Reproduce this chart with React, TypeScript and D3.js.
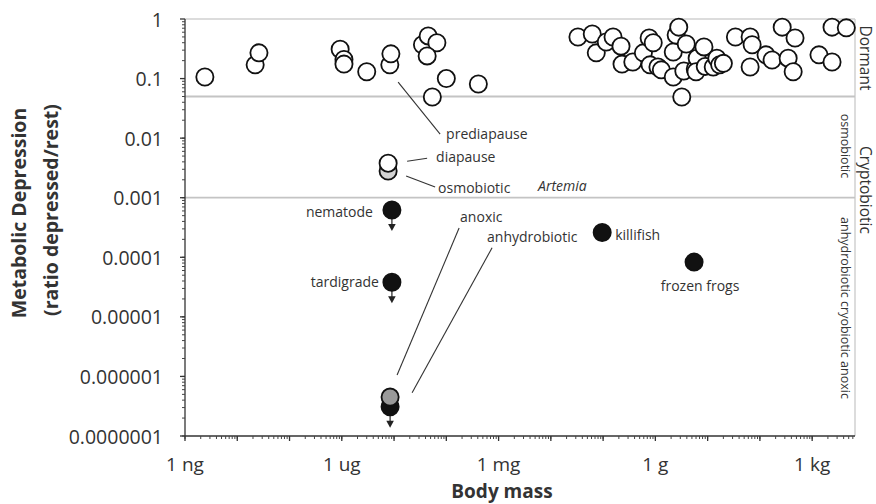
import React from 'react';
import * as d3 from 'd3';

const W = 876;
const H = 504;
const FONT = '"Open Sans", "Noto Sans", sans-serif';

// dormant animals (open circles): body mass in g, metabolic ratio
const dormantMass = [
  2.4e-9, 2.2e-8, 2.6e-8, 9.3e-7, 1.1e-6, 1.1e-6, 3.0e-6, 8.3e-6, 8.7e-6,
  3.5e-5, 4.5e-5, 6.6e-5, 4.3e-5, 1.0e-4, 5.4e-5, 4.1e-4,
  0.033, 0.062, 0.074, 0.115, 0.155, 0.22, 0.23, 0.37, 0.59, 0.76, 0.91, 0.79,
  1.12, 1.3, 2.2, 2.2, 2.5, 2.8, 3.2, 3.5, 3.9, 5.8, 6.3, 6.0, 8.5, 9.0,
  12.8, 15, 17, 20, 34, 65, 71, 65, 131, 171, 267, 470, 347, 433,
  1350, 2400, 2400, 4500,
];
const dormantRatio = [
  0.106, 0.17, 0.27, 0.31, 0.21, 0.175, 0.13, 0.17, 0.26,
  0.37, 0.52, 0.40, 0.24, 0.10, 0.049, 0.081,
  0.50, 0.56, 0.27, 0.41, 0.50, 0.35, 0.175, 0.19, 0.27, 0.48, 0.40, 0.17,
  0.156, 0.14, 0.106, 0.28, 0.54, 0.73, 0.049, 0.134, 0.38, 0.145, 0.22, 0.13, 0.34, 0.16,
  0.156, 0.22, 0.17, 0.18, 0.50, 0.50, 0.37, 0.156, 0.25, 0.205, 0.73, 0.48, 0.22, 0.13,
  0.25, 0.19, 0.73, 0.71,
];

// cryptobiotic / named cases
const cryptoNames = ['osmobiotic', 'diapause', 'nematode', 'tardigrade', 'anhydrobiotic', 'anoxic', 'killifish', 'frozen frogs'];
const cryptoMass = [7.7e-6, 7.7e-6, 9.1e-6, 9.1e-6, 8.4e-6, 8.4e-6, 0.096, 5.5];
const cryptoRatio = [0.0028, 0.0038, 6.2e-4, 3.8e-5, 3.1e-7, 4.5e-7, 2.6e-4, 8.3e-5];
const cryptoKind = ['light', 'open', 'black', 'black', 'black', 'grey', 'black', 'black'];
// upper limits only (down arrow)
const upperLimit = ['nematode', 'tardigrade', 'anhydrobiotic'];

const bandBreaks = [0.05, 0.001];

const massTicks = [1e-9, 1e-6, 1e-3, 1, 1e3];
const massLabels = ['1 ng', '1 ug', '1 mg', '1 g', '1 kg'];
const ratioTicks = [1, 0.1, 0.01, 0.001, 0.0001, 0.00001, 0.000001, 0.0000001];
const ratioLabels = ['1', '0.1', '0.01', '0.001', '0.0001', '0.00001', '0.000001', '0.0000001'];

// label placement, offsets in px from the named point
const notes = [
  { text: 'prediapause', at: 'diapause', dx: 58, dy: -30, anchor: 'start', line: [10, -81, 52, -29] },
  { text: 'diapause', at: 'diapause', dx: 48, dy: -7, anchor: 'start', line: [19, -2, 39, -5] },
  { text: 'osmobiotic', at: 'osmobiotic', dx: 50, dy: 16, anchor: 'start', line: [18, 5, 47, 16] },
  { text: 'Artemia', at: 'osmobiotic', dx: 150, dy: 14, anchor: 'start', italic: true },
  { text: 'nematode', at: 'nematode', dx: -19, dy: 1, anchor: 'end' },
  { text: 'tardigrade', at: 'tardigrade', dx: -13, dy: -1, anchor: 'end' },
  { text: 'anoxic', at: 'anoxic', dx: 70, dy: -181, anchor: 'start', line: [69, -169, 7, -22] },
  { text: 'anhydrobiotic', at: 'anhydrobiotic', dx: 97, dy: -170, anchor: 'start', line: [102, -159, 22, -14] },
  { text: 'killifish', at: 'killifish', dx: 13, dy: 2, anchor: 'start' },
  { text: 'frozen frogs', at: 'frozen frogs', dx: 6, dy: 23, anchor: 'middle' },
];

const fills: Record<string, string> = { open: '#fff', light: '#d4d4d4', grey: '#9a9a9a', black: '#111' };

const left = 185, right = 855, top = 19, bottom = 436;

export default function App() {
  const x = d3.scaleLog().domain([1e-9, 6.6e3]).range([left, right]);
  const y = d3.scaleLog().domain([1e-7, 1]).range([bottom, top]);
  const r = 8.6;

  const xMinor: number[] = [];
  for (let e = -9; e <= 3; e++) for (let k = 1; k <= 9; k++) {
    const v = k * Math.pow(10, e);
    if (v <= 6.6e3) xMinor.push(v);
  }
  const yMinor: number[] = [];
  for (let e = -7; e < 0; e++) for (let k = 1; k <= 9; k++) yMinor.push(k * Math.pow(10, e));

  const idx = (n: string) => cryptoNames.indexOf(n);
  const px = (n: string) => x(cryptoMass[idx(n)]);
  const py = (n: string) => y(cryptoRatio[idx(n)]);

  return (
    <svg width={W} height={H} style={{ position: 'absolute', left: 0, top: 0, fontFamily: FONT }}>
      <rect width={W} height={H} fill="#fff" />
      {/* frame and band separators */}
      <line x1={left} x2={right} y1={top} y2={top} stroke="#d0d0d0" strokeWidth={1.5} />
      <line x1={right} x2={right} y1={top} y2={bottom} stroke="#d0d0d0" strokeWidth={1.5} />
      {bandBreaks.map((b) => (
        <line key={b} x1={left} x2={right} y1={y(b)} y2={y(b)} stroke="#c4c4c4" strokeWidth={1.8} />
      ))}

      {/* leader lines */}
      {notes.filter((n) => n.line).map((n) => (
        <line key={'l' + n.text}
          x1={px(n.at) + n.line![0]} y1={py(n.at) + n.line![1]}
          x2={px(n.at) + n.line![2]} y2={py(n.at) + n.line![3]}
          stroke="#333" strokeWidth={1.1} />
      ))}

      {/* dormant */}
      {dormantMass.map((m, i) => (
        <circle key={'d' + i} cx={x(m)} cy={y(dormantRatio[i])} r={r} fill="#fff" stroke="#111" strokeWidth={1.8} />
      ))}

      {/* down arrows */}
      {upperLimit.map((n) => {
        const cx = px(n), cy = py(n);
        return (
          <g key={'a' + n}>
            <line x1={cx} x2={cx} y1={cy} y2={cy + 15} stroke="#222" strokeWidth={1.2} />
            <path d={`M${cx - 3.8},${cy + 14}L${cx + 3.8},${cy + 14}L${cx},${cy + 21}Z`} fill="#222" />
          </g>
        );
      })}

      {/* cryptobiotic and named points */}
      {cryptoNames.map((n, i) => (
        <circle key={'c' + n} cx={x(cryptoMass[i])} cy={y(cryptoRatio[i])} r={r}
          fill={fills[cryptoKind[i]]} stroke="#111" strokeWidth={1.8} />
      ))}

      {/* point labels */}
      {notes.map((n) => (
        <text key={'t' + n.text} x={px(n.at) + n.dx} y={py(n.at) + n.dy} textAnchor={n.anchor as any}
          dominantBaseline="central" fontSize={14} fill="#333" fontStyle={n.italic ? 'italic' : 'normal'}>
          {n.text}
        </text>
      ))}

      {/* y axis */}
      <line x1={left} x2={left} y1={top} y2={bottom} stroke="#333" strokeWidth={1.3} />
      {yMinor.map((v) => (
        <line key={'ym' + v} x1={left - 3} x2={left} y1={y(v)} y2={y(v)} stroke="#444" strokeWidth={1} />
      ))}
      {ratioTicks.map((v, i) => (
        <g key={'yt' + v}>
          <line x1={left - 5} x2={left} y1={y(v)} y2={y(v)} stroke="#333" strokeWidth={1.3} />
          <text x={left - 22} y={y(v)} textAnchor="end" dominantBaseline="central" fontSize={19.5} fill="#333">
            {ratioLabels[i]}
          </text>
        </g>
      ))}

      {/* x axis */}
      <line x1={left} x2={right} y1={bottom} y2={bottom} stroke="#333" strokeWidth={1.3} />
      {xMinor.map((v) => (
        <line key={'xm' + v} x1={x(v)} x2={x(v)} y1={bottom} y2={bottom + 3} stroke="#444" strokeWidth={1} />
      ))}
      {d3.range(-9, 4).map((e) => (
        <line key={'xd' + e} x1={x(Math.pow(10, e))} x2={x(Math.pow(10, e))} y1={bottom} y2={bottom + 5}
          stroke="#333" strokeWidth={1.3} />
      ))}
      {massTicks.map((v, i) => (
        <text key={'xt' + v} x={x(v)} y={bottom + 28} textAnchor="middle" dominantBaseline="central" fontSize={19} fill="#333">
          {massLabels[i]}
        </text>
      ))}

      {/* axis titles */}
      <text x={502} y={491} textAnchor="middle" dominantBaseline="central" fontSize={19} fontWeight="bold" fill="#333">
        Body mass
      </text>
      <g transform="translate(18,213) rotate(-90)">
        <text textAnchor="middle" dominantBaseline="central" fontSize={19.5} fontWeight="bold" fill="#333">Metabolic Depression</text>
      </g>
      <g transform="translate(50,210) rotate(-90)">
        <text textAnchor="middle" dominantBaseline="central" fontSize={19.5} fontWeight="bold" fill="#333">(ratio depressed/rest)</text>
      </g>

      {/* band names */}
      <g transform="translate(866,58) rotate(90)">
        <text textAnchor="middle" dominantBaseline="central" fontSize={15.5} fill="#333">Dormant</text>
      </g>
      <g transform="translate(866,190) rotate(90)">
        <text textAnchor="middle" dominantBaseline="central" fontSize={15.5} fill="#333">Cryptobiotic</text>
      </g>
      <g transform="translate(845,146) rotate(90)">
        <text textAnchor="middle" dominantBaseline="central" fontSize={12.5} fill="#333">osmobiotic</text>
      </g>
      <g transform="translate(845,308) rotate(90)">
        <text textAnchor="middle" dominantBaseline="central" fontSize={12.5} fill="#333">anhydrobiotic cryobiotic anoxic</text>
      </g>
    </svg>
  );
}
